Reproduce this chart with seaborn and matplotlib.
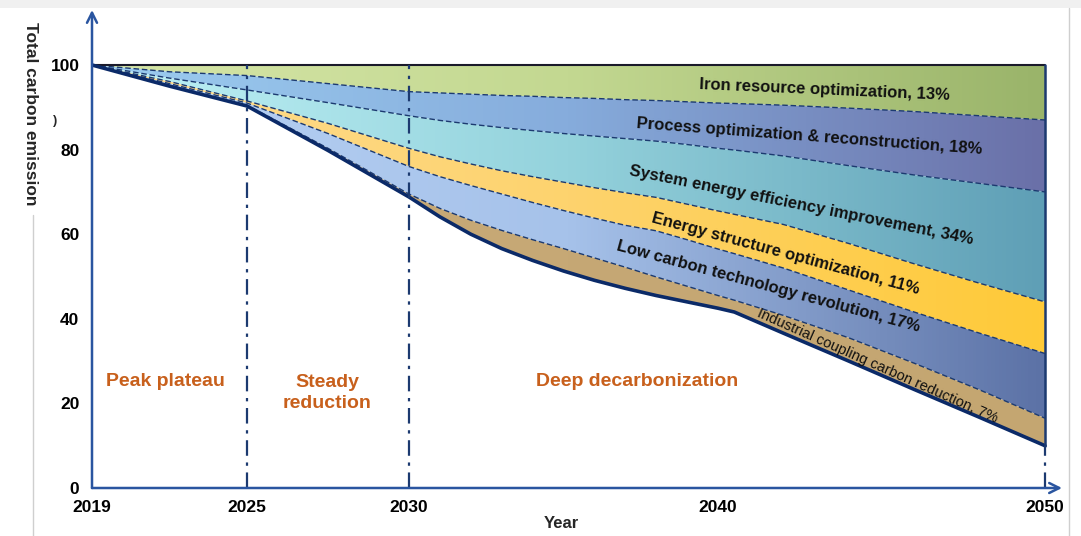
import numpy as np
import matplotlib
matplotlib.use("Agg")
import matplotlib.pyplot as plt
import seaborn as sns
import pandas as pd
from matplotlib.colors import LinearSegmentedColormap
from matplotlib.lines import Line2D
from matplotlib.patches import Rectangle

# ---------------- data ----------------
years = [2019, 2022, 2025, 2027.5, 2030, 2031, 2032, 2033, 2034, 2035, 2036, 2037,
         2038, 2039, 2040, 2040.5, 2042, 2044, 2046, 2048, 2050]
top_level = [100] * 21
iron_bottom = [100, 98.4, 97.5, 95.6, 93.7, 93.4, 93.1, 92.8, 92.6, 92.3, 92.1, 91.8,
               91.6, 91.3, 91.0, 90.9, 90.5, 89.8, 89.0, 88.0, 87.0]
process_bottom = [100, 96.9, 94.1, 91.1, 88.0, 86.9, 86.0, 85.2, 84.5, 83.8, 83.2, 82.6,
                  82.0, 81.2, 80.3, 79.9, 78.5, 76.2, 74.0, 72.0, 70.0]
system_bottom = [100, 96.1, 91.5, 86.2, 80.3, 78.3, 76.6, 75.0, 73.6, 72.3, 71.0, 69.8,
                 68.7, 67.1, 65.5, 64.7, 62.3, 57.8, 53.0, 48.4, 44.0]
energy_bottom = [100, 95.6, 91.0, 83.8, 76.0, 73.6, 71.5, 69.5, 67.5, 65.6, 63.8, 62.1,
                 60.8, 58.7, 56.5, 55.4, 52.0, 46.8, 41.6, 36.6, 31.8]
lowcarbon_bottom = [100, 95.2, 90.5, 80.3, 69.5, 66.1, 63.3, 60.9, 58.7, 56.6, 54.4, 52.2,
                    49.9, 47.7, 45.5, 44.4, 40.8, 35.5, 29.5, 23.2, 16.5]
total_emission = [100, 95.0, 90.3, 79.8, 68.8, 64.1, 60.0, 56.6, 53.8, 51.3, 49.1, 47.2,
                  45.5, 44.0, 42.5, 41.6, 36.6, 30.0, 23.3, 16.7, 10.0]

band_names = ["Iron resource optimization, 13%",
              "Process optimization & reconstruction, 18%",
              "System energy efficiency improvement, 34%",
              "Energy structure optimization, 11%",
              "Low carbon technology revolution, 17%",
              "Industrial coupling carbon reduction, 7%"]
x_ticks = [2019, 2025, 2030, 2040, 2050]
y_ticks = [0, 20, 40, 60, 80, 100]
phase_lines = [2025, 2030]
phase_labels = ["Peak plateau", "Steady\nreduction", "Deep decarbonization"]

# ---------------- styling ----------------
sns.set_theme(style="white")
plt.rcParams["font.family"] = ["Liberation Sans", "DejaVu Sans"]

W, H = 1081, 536
fig = plt.figure(figsize=(W / 100, H / 100), dpi=100)
fig.patch.set_facecolor("white")

def fx(px):
    return px / W

def fy(py):
    return 1 - py / H

ax = fig.add_axes([fx(92), fy(488), (1062 - 92) / W, (488 - 10) / H])
ax.set_facecolor("none")

# piecewise x scale as in the original chart
knots_year = [2000, 2019, 2025, 2030, 2040, 2050, 2070]
knots_pos = [-490.8, 0, 155, 317, 626, 953, 1607]

def fwd(x):
    return np.interp(x, knots_year, knots_pos)

def inv(p):
    return np.interp(p, knots_pos, knots_year)

ax.set_xscale("function", functions=(fwd, inv))

bands = [
    (top_level, iron_bottom, ["#d6e6a8", "#c3d891", "#9ab46a"]),
    (iron_bottom, process_bottom, ["#9ccdf0", "#86acdc", "#6a70a8"]),
    (process_bottom, system_bottom, ["#bff2f6", "#94d2dc", "#5f9fb6"]),
    (system_bottom, energy_bottom, ["#fddc90", "#fdd36e", "#ffca38"]),
    (energy_bottom, lowcarbon_bottom, ["#b8d2f4", "#a6c2ea", "#5c72a6"]),
    (lowcarbon_bottom, total_emission, ["#c9ab78", "#c6a875", "#c4a671"]),
]

grad = np.linspace(0, 1, 256).reshape(1, -1)
xfrac_end = 953 / 970
for upper, lower, cols in bands:
    poly = ax.fill_between(years, lower, upper, facecolor="none", edgecolor="none", zorder=1)
    cmap = LinearSegmentedColormap.from_list("g", cols)
    im = ax.imshow(grad, extent=[0, xfrac_end, 0, 1], transform=ax.transAxes,
                   aspect="auto", cmap=cmap, interpolation="bilinear", zorder=1)
    im.set_clip_path(poly.get_paths()[0], transform=poly.get_transform())

navy = "#1c3a70"
for arr in [iron_bottom, process_bottom, system_bottom, energy_bottom, lowcarbon_bottom]:
    ax.plot(years, arr, color=navy, lw=1.0, linestyle=(0, (4, 2)), zorder=3)

# top border
ax.plot(years, top_level, color="#1a1a2a", lw=1.5, zorder=3)
# total emission line
df = pd.DataFrame({"year": years, "total": total_emission})
sns.lineplot(data=df, x="year", y="total", ax=ax, color="#0b2a68", lw=2.6, zorder=4)

# phase separators
dd = (0, (7, 3, 1.5, 3))
for yr in phase_lines:
    ax.plot([yr, yr], [0, 100], color=navy, lw=1.6, linestyle=dd, zorder=4)
ax.plot([2050, 2050], [total_emission[-1], 100], color=navy, lw=1.8, zorder=4)
ax.plot([2050, 2050], [0, total_emission[-1]], color=navy, lw=1.6, linestyle=dd, zorder=4)

ax.set_xlim(2019, 2050.52)
ax.set_ylim(0, 113)
for s in ax.spines.values():
    s.set_visible(False)
ax.grid(False)

axis_blue = "#2a55a0"
ax.annotate("", xy=(0, 1), xytext=(0, 0), xycoords="axes fraction",
            arrowprops=dict(arrowstyle="->", color=axis_blue, lw=1.8, mutation_scale=18,
                            shrinkA=0, shrinkB=0), zorder=5)
ax.annotate("", xy=(1, 0), xytext=(0, 0), xycoords="axes fraction",
            arrowprops=dict(arrowstyle="->", color=axis_blue, lw=1.8, mutation_scale=18,
                            shrinkA=0, shrinkB=0), zorder=5)

ax.set_xticks(x_ticks)
ax.set_xticklabels([str(t) for t in x_ticks])
ax.set_yticks(y_ticks)
ax.set_yticklabels([str(t) for t in y_ticks])
ax.tick_params(axis="x", length=0, pad=9, labelsize=12.5, labelcolor="black")
ax.tick_params(axis="y", length=0, pad=9, labelsize=12.5, labelcolor="black")
for lbl in ax.get_xticklabels() + ax.get_yticklabels():
    lbl.set_fontweight("bold")
ax.set_xlabel("")
ax.set_ylabel("")

fig.text(fx(561), fy(523), "Year", ha="center", va="center", fontsize=12, fontweight="bold")
fig.text(fx(30), fy(114), "Total carbon emission", ha="center", va="center", rotation=270,
         fontsize=12.5, fontweight="bold")
fig.text(fx(55), fy(121), ")", ha="center", va="center", fontsize=9, fontweight="bold")

# phase labels
orange = "#c8601c"
fig.text(fx(165), fy(381), phase_labels[0], ha="center", va="center", fontsize=14,
         fontweight="bold", color=orange)
fig.text(fx(327), fy(393), phase_labels[1], ha="center", va="center", fontsize=14,
         fontweight="bold", color=orange, linespacing=1.25)
fig.text(fx(637), fy(381), phase_labels[2], ha="center", va="center", fontsize=14,
         fontweight="bold", color=orange)

# band labels
label_specs = [
    (825, 90, -2.5, 12, "bold"),
    (809, 137, -4.3, 12, "bold"),
    (801, 205, -11.4, 12, "bold"),
    (786, 254, -15.1, 12, "bold"),
    (768, 287, -15.1, 12, "bold"),
    (877, 366, -24.0, 10.5, "normal"),
]
for name, (px, py, rot, fs, fw) in zip(band_names, label_specs):
    fig.text(fx(px), fy(py), name, ha="center", va="center", rotation=rot,
             rotation_mode="anchor", fontsize=fs, fontweight=fw, color="#111111", zorder=6)

# screenshot frame remnants
fig.patches.append(Rectangle((0, fy(8)), 1, 8 / H, transform=fig.transFigure,
                             facecolor="#f0f0f0", edgecolor="none", zorder=0))
fig.lines.append(Line2D([fx(1069), fx(1069)], [0, fy(8)], transform=fig.transFigure,
                        color="#cfcfcf", lw=1))
fig.lines.append(Line2D([fx(33), fx(33)], [0, fy(215)], transform=fig.transFigure,
                        color="#cfcfcf", lw=1))

fig.savefig("out.png", dpi=100)
